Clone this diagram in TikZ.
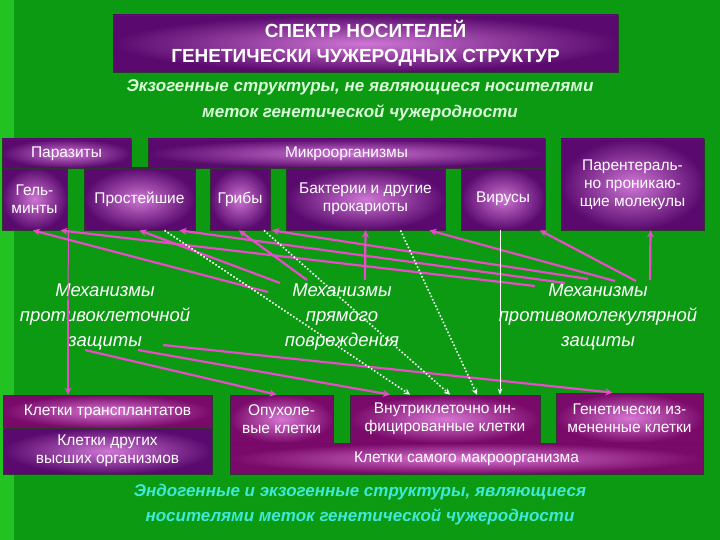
\documentclass[tikz,border=0pt]{standalone}
\usepackage{fontspec}
\setmainfont{Liberation Sans}
\usetikzlibrary{arrows.meta}
\definecolor{bg}{HTML}{0B9A12}
\definecolor{bgl}{HTML}{22C222}
\definecolor{pk}{HTML}{E84CC8}
\definecolor{cy}{HTML}{40E8D8}
\definecolor{pv}{HTML}{5A0A6E}
\definecolor{pm}{HTML}{7A0A6A}
\begin{document}
\begin{tikzpicture}[x=1pt,y=-1pt,
 box/.style={draw=black!80,line width=0.8pt,inner color=#1!40!white!75!magenta,outer color=#1,text=white,align=center,font=\fontsize{15.5}{18}\selectfont,inner sep=1pt},
 box/.default={pv},
 mbox/.style={box={pm}},
 mech/.style={text=white,font=\fontsize{18.5}{25}\selectfont\itshape,align=center},
 arr/.style={pk,line width=2.2pt,-{Stealth[length=7pt,width=7pt]}},
 darr/.style={white,line width=1.6pt,dotted,-{Stealth[length=6pt,width=6pt]}},
 warr/.style={white,line width=1pt}]
\fill[bg] (0,0) rectangle (720,540);
\fill[bgl] (0,0) rectangle (14,540);
\node[box={pv},minimum width=505pt,minimum height=57pt,font=\fontsize{19}{25}\selectfont\bfseries] (title) at (365.5,43.5) {СПЕКТР НОСИТЕЛЕЙ\\ГЕНЕТИЧЕСКИ ЧУЖЕРОДНЫХ СТРУКТУР};
\node[text=white!85!green,font=\fontsize{17}{26}\selectfont\bfseries\itshape,align=center] (sub) at (360,100) {Экзогенные структуры, не являющиеся носителями\\меток генетической чужеродности};
\node[box,minimum width=129pt,minimum height=29pt] (par) at (66.5,153.5) {Паразиты};
\node[box,minimum width=397pt,minimum height=29pt] (micro) at (346.5,153.5) {Микроорганизмы};
\node[box,minimum width=143pt,minimum height=91pt] (parent) at (632.5,184.5) {Парентераль-\\но проникаю-\\щие молекулы};
\node[box,minimum width=65pt,minimum height=62pt] (gel) at (34.5,199) {Гель-\\минты};
\node[box,minimum width=111pt,minimum height=62pt] (pros) at (139.5,199) {Простейшие};
\node[box,minimum width=60pt,minimum height=62pt] (grib) at (240,199) {Грибы};
\node[box,minimum width=159pt,minimum height=62pt] (bakt) at (365.5,199) {Бактерии и другие\\прокариоты};
\node[box,minimum width=84pt,minimum height=62pt] (vir) at (503,199) {Вирусы};
\node[mech] (mL) at (105,317) {Механизмы\\противоклеточной\\защиты};
\node[mech] (mM) at (342,317) {Механизмы\\прямого\\повреждения};
\node[mech] (mR) at (598,317) {Механизмы\\противомолекулярной\\защиты};
\node[mbox,minimum width=209pt,minimum height=33pt] (trans) at (107.5,411.5) {Клетки трансплантатов};
\node[box,minimum width=209pt,minimum height=46pt] (drug) at (107.5,451) {Клетки других\\высших организмов};
\node[mbox,minimum width=473pt,minimum height=31pt] (sam) at (466.5,458.5) {Клетки самого макроорганизма};
\node[mbox,minimum width=103pt,minimum height=48pt] (opux) at (281.5,419) {Опухоле-\\вые клетки};
\node[mbox,minimum width=190pt,minimum height=48pt] (vnut) at (445,419) {Внутриклеточно ин-\\фицированные клетки};
\node[mbox,minimum width=147pt,minimum height=50pt] (genet) at (629.5,418) {Генетически из-\\мененные клетки};
\node[text=cy,font=\fontsize{17}{25}\selectfont\bfseries\itshape,align=center] (bot) at (360,505) {Эндогенные и экзогенные структуры, являющиеся\\носителями меток генетической чужеродности};
% start coordinates
\coordinate (m1) at (268,292); \coordinate (m2) at (280,283); \coordinate (m3) at (307,280); \coordinate (m4) at (365,280);
\coordinate (r1) at (535,286); \coordinate (r2) at (565,283); \coordinate (r3) at (588,279);
\coordinate (r4) at (615,281); \coordinate (r5) at (636,281); \coordinate (r6) at (650,280);
\coordinate (l0) at (68,300); \coordinate (l1) at (85,350); \coordinate (l2) at (138,350); \coordinate (l3) at (163,345);
\draw[arr] (m1) -- ([xshift=-1.5pt]gel.south);
\draw[arr] (m2) -- (pros.south);
\draw[arr] (m3) -- ([xshift=-1pt]grib.south);
\draw[arr] (m4) -- (bakt.south);
\draw[arr] (r1) -- ([xshift=26pt]gel.south);
\draw[arr] (r2) -- ([xshift=40pt]pros.south);
\draw[arr] (r3) -- ([xshift=32pt]grib.south);
\draw[arr] (r4) -- ([xshift=64pt]bakt.south);
\draw[arr] (r5) -- ([xshift=37pt]vir.south);
\draw[arr] (r6) -- ([xshift=18pt]parent.south);
\draw[pk,line width=1pt] ([xshift=34pt]gel.south) -- (l0);
\draw[arr] (l0) -- ([xshift=-39.5pt]trans.north);
\draw[arr] (l1) -- ([xshift=-5pt]opux.north);
\draw[arr] (l2) -- ([xshift=-55pt]vnut.north);
\draw[arr] (l3) -- ([xshift=-17pt]genet.north);
\draw[darr] ([xshift=25pt]pros.south) -- ([xshift=-35pt]vnut.north);
\draw[darr] ([xshift=24pt]grib.south) -- ([xshift=5pt]vnut.north);
\draw[darr] ([xshift=35pt]bakt.south) -- ([xshift=32pt]vnut.north);
\draw[warr,-{Stealth[length=6pt]}] ([xshift=-3pt]vir.south) -- ([xshift=55pt]vnut.north);
\end{tikzpicture}
\end{document}
